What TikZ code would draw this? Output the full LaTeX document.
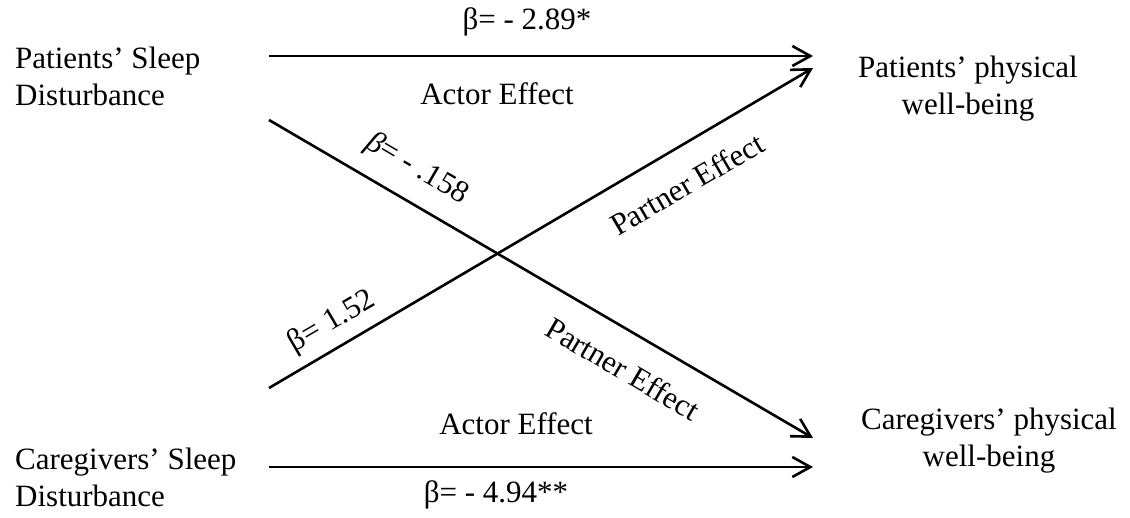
\documentclass[tikz,border=0pt]{standalone}
\usepackage{fontspec}
\setmainfont{Liberation Serif}
\usetikzlibrary{arrows.meta}
\begin{document}
\begin{tikzpicture}[x=1pt,y=-1pt,
  every node/.style={inner sep=0pt,font=\fontsize{31}{37}\selectfont},
  conn/.style={line width=2.6pt,-{Straight Barb[length=18pt,width=20pt,line width=2.6pt]}},
  boxtext/.style={align=left,anchor=west},
  goaltext/.style={align=center}]
\useasboundingbox (0,0) rectangle (1130,518);
% variable nodes
\node[boxtext] (psd) at (15,76) {Patients’ Sleep\\Disturbance};
\node[boxtext] (csd) at (15,477) {Caregivers’ Sleep\\Disturbance};
\node[goaltext] (ppw) at (968,89) {Patients’ physical\\well-being};
\node[goaltext] (cpw) at (989,441) {Caregivers’ physical\\well-being};
% connector end points
\coordinate (ps) at (269,56);
\coordinate (pe) at (813,56);
\coordinate (cs) at (269,467);
\coordinate (ce) at (813,467);
\coordinate (d1s) at (269,120);
\coordinate (d1e) at (813,438);
\coordinate (d2s) at (269,388);
\coordinate (d2e) at (813,68);
\draw[conn] (ps) -- (pe);
\draw[conn] (cs) -- (ce);
\draw[conn] (d1s) -- (d1e);
\draw[conn] (d2s) -- (d2e);
% labels
\node (b1) at (527,22) {β= - 2.89*};
\node (a1) at (497,94) {Actor Effect};
\node[rotate=-30.3] (b2) at (417,169) {\textit{β}= - .158};
\node[rotate=30.3] (p1) at (687,184) {Partner Effect};
\node[rotate=30.3] (b3) at (332,322) {β= 1.52};
\node[rotate=-30.3] (p2) at (623,369) {Partner Effect};
\node (a2) at (516,424) {Actor Effect};
\node (b4) at (496,495) {β= - 4.94**};
\end{tikzpicture}
\end{document}
